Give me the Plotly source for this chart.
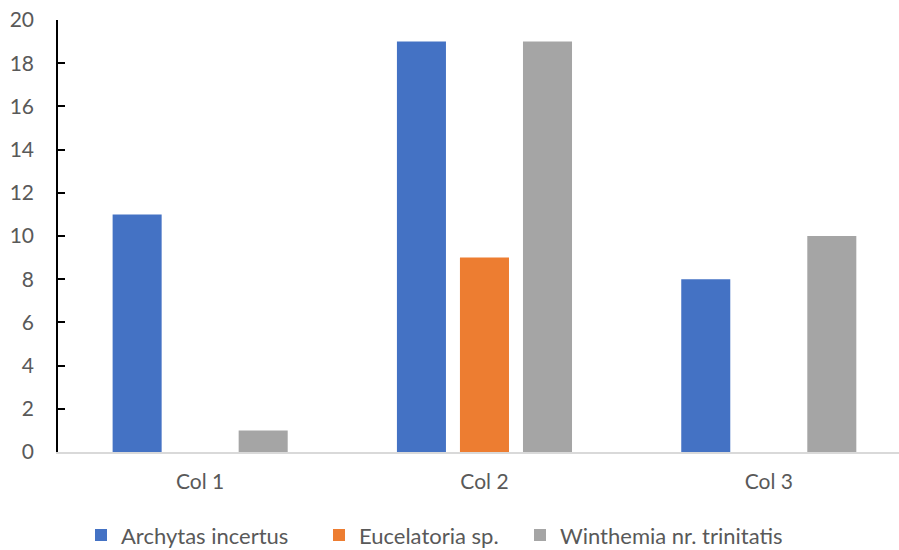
import plotly.graph_objects as go

categories = ["Col 1", "Col 2", "Col 3"]
archytas = [11, 19, 8]
eucelatoria = [0, 9, 0]
winthemia = [1, 19, 10]
series_names = ["Archytas incertus", "Eucelatoria sp.", "Winthemia nr. trinitatis"]
colors = ["#4472C4", "#ED7D31", "#A5A5A5"]
y_ticks = [0, 2, 4, 6, 8, 10, 12, 14, 16, 18, 20]

FONT = "Lato"
TXT = "#595959"
FS = 21
LFS = 22
W, H = 899, 550

legend_ids = ["legend", "legend2", "legend3"]
legend_left_px = [81, 319, 520]

fig = go.Figure()
for name, vals, col, lid in zip(series_names, [archytas, eucelatoria, winthemia], colors, legend_ids):
    fig.add_trace(go.Bar(x=categories, y=vals, name=name, legend=lid,
                         marker=dict(color=col, line=dict(width=0))))

legend_common = dict(orientation="h", xref="container", xanchor="left", yref="container",
                     y=0.027, yanchor="middle", font=dict(family=FONT, size=LFS, color=TXT),
                     itemwidth=30, bgcolor="rgba(0,0,0,0)", borderwidth=0)

fig.update_layout(
    width=W, height=H,
    margin=dict(l=58, r=0, t=20, b=98),
    plot_bgcolor="white", paper_bgcolor="white",
    barmode="group", bargap=0.335, bargroupgap=0.222,
    font=dict(family=FONT, size=FS, color=TXT),
    showlegend=True,
    legend=dict(x=legend_left_px[0] / W, **legend_common),
    legend2=dict(x=legend_left_px[1] / W, **legend_common),
    legend3=dict(x=legend_left_px[2] / W, **legend_common),
)
fig.update_xaxes(range=[-0.5, 2.458], showline=True, linecolor="#D9D9D9", linewidth=1.5,
                 showgrid=False, ticks="", ticklabelstandoff=10,
                 tickfont=dict(family=FONT, size=FS, color=TXT), zeroline=False)
fig.update_yaxes(range=[0, 20], tickvals=y_ticks, showline=True, linecolor="black", linewidth=1.5,
                 ticks="inside", ticklen=7, tickcolor="black", tickwidth=1.5,
                 showgrid=False, zeroline=False, ticklabelstandoff=18,
                 tickfont=dict(family=FONT, size=FS, color=TXT))

fig.write_html("out.html")
